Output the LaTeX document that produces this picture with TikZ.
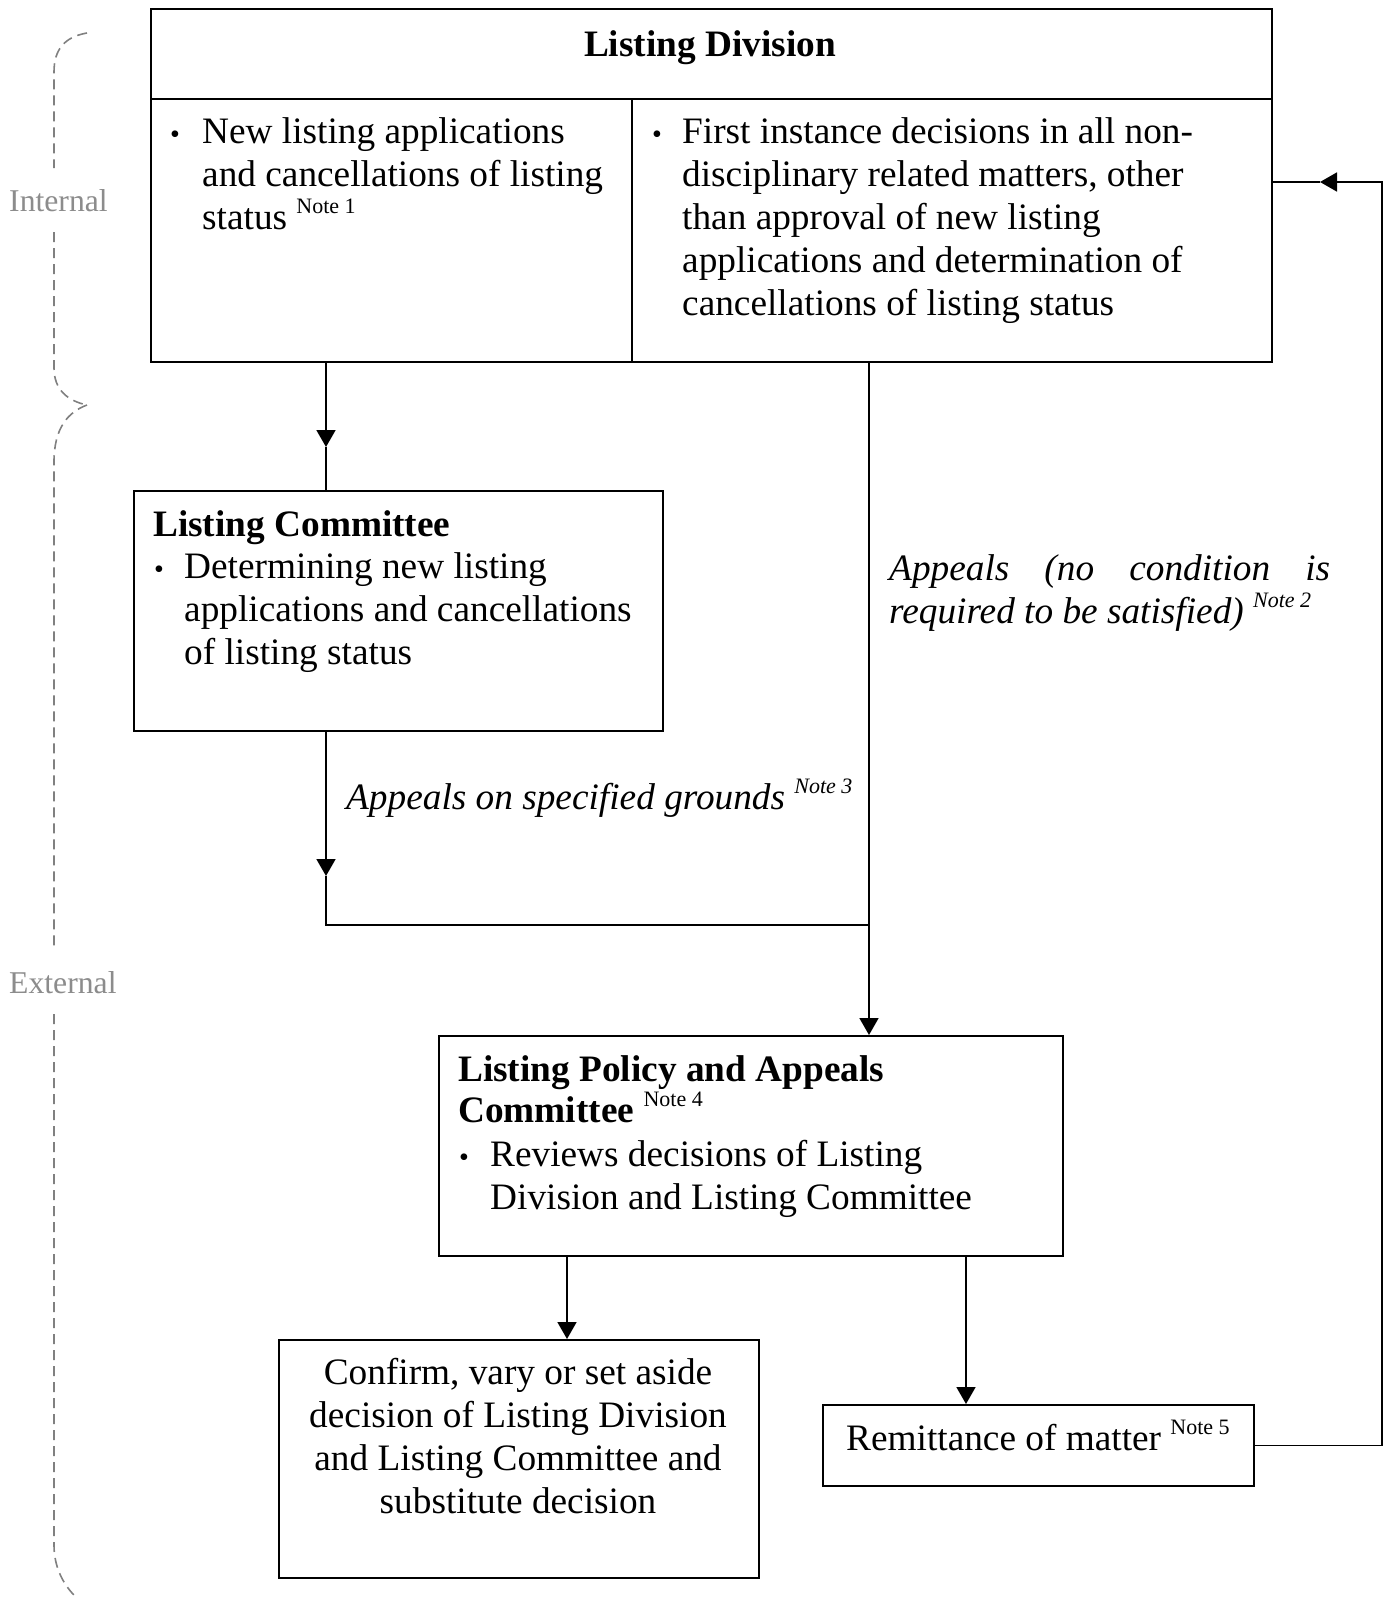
\documentclass[tikz,border=0pt]{standalone}
\usepackage{fontspec}
\setmainfont{Liberation Serif}
\usetikzlibrary{arrows.meta,positioning}

\newcommand{\bodyfont}{\fontsize{37.3}{43}\selectfont}
\newcommand{\notesup}[1]{\raisebox{16pt}{\fontsize{22}{22}\selectfont\mdseries Note #1}}

\tikzset{
  box/.style={draw, line width=1.8pt, inner sep=0pt, anchor=north west},
  txt/.style={inner sep=0pt, anchor=base west, align=left, font=\bodyfont},
  bold/.style={txt, font=\bodyfont\bfseries},
  slant/.style={txt, font=\bodyfont\itshape},
  dot/.style={inner sep=0pt, anchor=base, font=\fontsize{28}{28}\selectfont},
  side/.style={inner sep=0pt, anchor=base west, text=black!45, font=\fontsize{31.7}{36}\selectfont},
  link/.style={line width=1.8pt},
  arr/.style={link, -{Triangle[width=19pt,length=17pt]}},
  brace/.style={line width=1.6pt, black!50, dash pattern=on 10pt off 6pt},
}

\begin{document}
\begin{tikzpicture}[x=1pt,y=-1pt]
  \useasboundingbox (0,0) rectangle (1390,1598);

  % Listing Division
  \node[box, minimum width=1121pt, minimum height=90pt] (ld-head) at (150,8) {};
  \node[box, minimum width=481pt, minimum height=263pt] (ld-left) at (150,98) {};
  \node[box, minimum width=640pt, minimum height=263pt] (ld-right) at (631,98) {};
  \node[bold, anchor=base] (ld-title) at (710,56) {Listing Division};

  % multi-line texts sit on the baseline of their last line
  \node[dot] (ldl-dot) at (175,143) {\textbullet};
  \node[txt] (ldl-text) at (202,229) {New listing applications\\and cancellations of listing\\status \notesup{1}};
  \node[dot] (ldr-dot) at (657,143) {\textbullet};
  \node[txt] (ldr-text) at (682,315) {First instance decisions in all non-\\disciplinary related matters, other\\than approval of new listing\\applications and determination of\\cancellations of listing status};

  % Listing Committee
  \node[box, minimum width=529pt, minimum height=240pt] (lc) at (133,490) {};
  \node[bold] (lc-title) at (153,536) {Listing Committee};
  \node[dot] (lc-dot) at (159,578) {\textbullet};
  \node[txt] (lc-text) at (184,664) {Determining new listing\\applications and cancellations\\of listing status};

  % Listing Policy and Appeals Committee
  \node[box, minimum width=624pt, minimum height=220pt] (lpac) at (438,1035) {};
  \node[bold, font=\fontsize{37.3}{41}\selectfont\bfseries] (lpac-title) at (458,1122) {Listing Policy and Appeals\\Committee \notesup{4}};
  \node[dot] (lpac-dot) at (464,1166) {\textbullet};
  \node[txt] (lpac-text) at (490,1209) {Reviews decisions of Listing\\Division and Listing Committee};

  % outcomes
  \node[box, minimum width=480pt, minimum height=238pt] (confirm) at (278,1339) {};
  \node[txt, anchor=base, align=center] (confirm-text) at (518,1513) {Confirm, vary or set aside\\decision of Listing Division\\and Listing Committee and\\substitute decision};
  \node[box, minimum width=431pt, minimum height=81pt] (remit) at (822,1404) {};
  \node[txt] (remit-text) at (846,1450) {Remittance of matter \notesup{5}};

  % appeal labels
  \node[slant] (spec-label) at (346,809) {Appeals on specified grounds \notesup{3}};
  \node[slant, text width=441pt, align=justify] (free-label) at (889,580) {Appeals (no condition is\linebreak required to be satisfied) \notesup{2}};

  % connectors
  \coordinate (m1) at (326,447);
  \coordinate (m2) at (326,876);
  \coordinate (j) at (869,925);
  \coordinate (a3) at (567,1300);
  \coordinate (a4) at (966,1330);
  \coordinate (r1) at (1382,800);
  \coordinate (r2) at (1320,182);
  \draw[arr] (ld-left.south -| m1) -- (m1);
  \draw[link] (m1) -- (lc.north -| m1);
  \draw[arr] (lc.south -| m2) -- (m2);
  \draw[link] (m2) -- (m2 |- j) -- (j);
  \draw[arr] (ld-right.south -| j) -- (lpac.north -| j);
  \draw[arr] (lpac.south -| a3) -- (confirm.north -| a3);
  \draw[arr] (lpac.south -| a4) -- (remit.north -| a4);
  \draw[arr] (remit.east) -| (r1 |- r2) -- (r2);
  \draw[link] (r2) -- (ld-right.east |- r2);

  % internal / external brace
  \node[side] (internal) at (9,211) {Internal};
  \node[side] (external) at (9,993) {External};
  \draw[brace] (87,33) .. controls (64,37) and (54,50) .. (54,72) -- (54,168);
  \draw[brace] (54,232) -- (54,368) .. controls (54,390) and (68,401) .. (87,405);
  \draw[brace] (87,405) .. controls (68,412) and (54,428) .. (54,462) -- (54,948);
  \draw[brace] (54,1014) -- (54,1545) .. controls (54,1568) and (64,1586) .. (77,1598);
\end{tikzpicture}
\end{document}
